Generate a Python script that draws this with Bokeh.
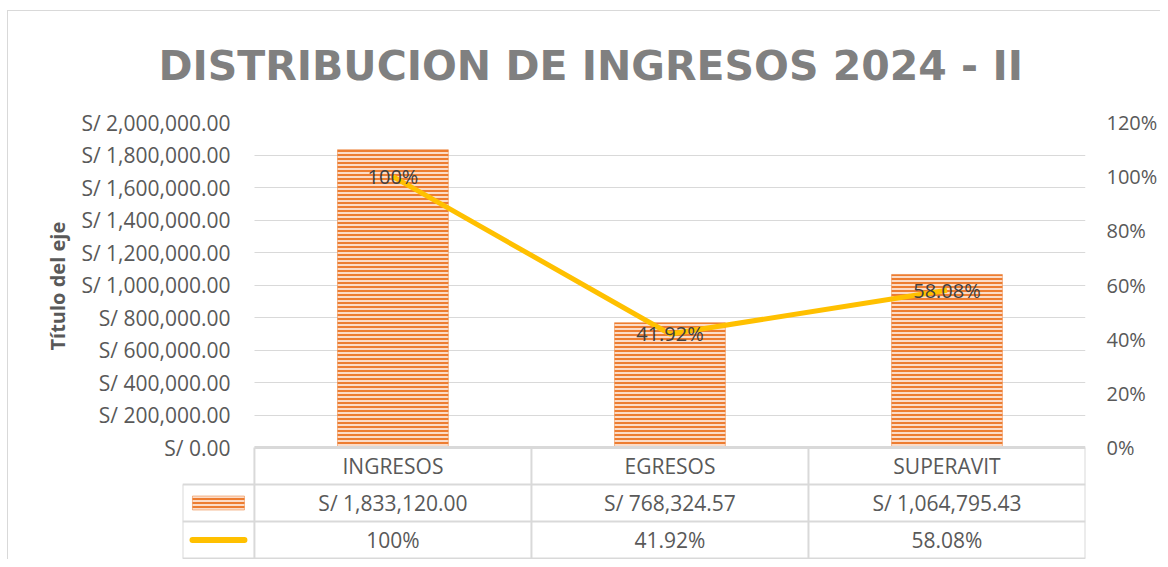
from bokeh.plotting import figure
from bokeh.models import Range1d, LinearAxis, FixedTicker, Title
from bokeh.embed import file_html
from bokeh.resources import INLINE
from bokeh.core.properties import value

# ---- data ----
categories = ["INGRESOS", "EGRESOS", "SUPERAVIT"]
amounts = [1833120.00, 768324.57, 1064795.43]
shares = [1.00, 0.4192, 0.5808]
share_labels = ["100%", "41.92%", "58.08%"]
y_ticks = [0, 200000, 400000, 600000, 800000, 1000000, 1200000, 1400000, 1600000, 1800000, 2000000]
y_tick_labels = ["S/ 0.00", "S/ 200,000.00", "S/ 400,000.00", "S/ 600,000.00", "S/ 800,000.00",
                 "S/ 1,000,000.00", "S/ 1,200,000.00", "S/ 1,400,000.00", "S/ 1,600,000.00",
                 "S/ 1,800,000.00", "S/ 2,000,000.00"]
pct_ticks = [0, 0.2, 0.4, 0.6, 0.8, 1.0, 1.2]
pct_tick_labels = ["0%", "20%", "40%", "60%", "80%", "100%", "120%"]
title_text = "DISTRIBUCION DE INGRESOS 2024 - II"
y_title = "Título del eje"

FONT = "Open Sans"
ORANGE = "#ED7D31"
ORANGE_BG = "#FBDCC8"
YELLOW = "#FFC000"
GRID = "#D9D9D9"
TXT = "#595959"

# ---- layout constants (pixels) ----
W, H = 1160, 559
TOP_PX = 122
LEFT_PX = 182
LEG_PX = 72          # legend column of the data table
CAT_PX = 832         # width of the three category columns
PLOT_PX = 325        # height of the value area
TABLE_PX = H - TOP_PX - PLOT_PX   # height below zero used by the data table
ROW_PX = 37
Y_MAX, P_MAX = 2000000, 1.2

n = len(categories)
unit = CAT_PX / n
leg_w = LEG_PX / unit
y_below = TABLE_PX / PLOT_PX * Y_MAX
p_below = TABLE_PX / PLOT_PX * P_MAX
row = ROW_PX / PLOT_PX * Y_MAX

p = figure(width=W, height=H, x_range=Range1d(-leg_w, n), y_range=Range1d(-y_below, Y_MAX),
           output_backend="svg", toolbar_location=None,
           min_border_left=LEFT_PX, min_border_right=W - LEFT_PX - LEG_PX - CAT_PX,
           min_border_top=TOP_PX, min_border_bottom=0)
p.border_fill_color = None
p.styles = {"background": "linear-gradient(#D9D9D9, #D9D9D9) 7px 10px / 1px 100% no-repeat, "
                          "linear-gradient(#D9D9D9, #D9D9D9) 7px 10px / 100% 1px no-repeat, white"}
p.extra_y_ranges = {"pct": Range1d(-p_below, P_MAX)}

p.title.text = title_text
p.title.text_font = "DejaVu Sans"
p.title.text_font_size = "41px"
p.title.text_font_style = "bold"
p.title.text_color = "#808080"
p.title.align = "left"
p.title.offset = -24
p.title.standoff = 66

p.xaxis.visible = False
p.xgrid.visible = False
p.outline_line_color = None

ax = p.yaxis[0]
ax.ticker = FixedTicker(ticks=y_ticks)
ax.major_label_overrides = {t: l for t, l in zip(y_ticks, y_tick_labels)}
ax.axis_line_color = None
ax.major_tick_line_color = None
ax.minor_tick_line_color = None
ax.major_tick_out = 0
ax.major_tick_in = 0
ax.major_label_standoff = 24 - LEG_PX
ax.major_label_text_font = FONT
ax.major_label_text_font_size = "21px"
ax.major_label_text_color = TXT

# vertical axis title, centred on the value area (not on the table)
ytitle = Title(text=y_title, align="left", offset=209, standoff=15,
               text_font=FONT, text_font_size="20px", text_font_style="bold", text_color=TXT)
p.add_layout(ytitle, "left")

p.ygrid.ticker = FixedTicker(ticks=y_ticks[1:])
p.ygrid.grid_line_color = GRID
p.ygrid.cross_bounds = (0, n)

rax = LinearAxis(y_range_name="pct", ticker=FixedTicker(ticks=pct_ticks))
rax.major_label_overrides = {t: l for t, l in zip(pct_ticks, pct_tick_labels)}
rax.axis_line_color = None
rax.major_tick_line_color = None
rax.minor_tick_line_color = None
rax.major_tick_out = 0
rax.major_tick_in = 0
rax.major_label_standoff = 21
rax.major_label_text_font = FONT
rax.major_label_text_font_size = "20px"
rax.major_label_text_color = TXT
p.add_layout(rax, "right")

cx = [i + 0.5 for i in range(n)]
p.vbar(x=cx, top=amounts, width=0.4, fill_color=ORANGE_BG,
       hatch_pattern="horizontal_line", hatch_color=ORANGE, hatch_scale=4, hatch_weight=2,
       line_color=ORANGE, line_alpha=0.5)
p.line(x=cx, y=shares, y_range_name="pct", line_color=YELLOW, line_width=5)
p.text(x=cx, y=shares, text=share_labels, y_range_name="pct",
       text_align="center", text_baseline="middle", text_font=value(FONT),
       text_font_size="20px", text_color="#404040")

# ---- data table under the plot ----
rows_y = [0, -row, -2 * row, -3 * row]
p.segment(x0=[0, -leg_w, -leg_w, -leg_w], y0=rows_y, x1=[n] * 4, y1=rows_y,
          line_color=GRID, line_width=[3, 2, 2, 2])
vx = [-leg_w] + list(range(n + 1))
p.segment(x0=vx, y0=[rows_y[3]] * len(vx), x1=vx, y1=[rows_y[1]] + [0] * (n + 1),
          line_color=GRID, line_width=2)

amount_labels = [f"S/ {v:,.2f}" for v in amounts]
for k, texts in enumerate([categories, amount_labels, share_labels]):
    yc = -(k + 0.5) * row
    p.text(x=cx, y=[yc] * n, text=texts, text_align="center", text_baseline="middle",
           text_font=value(FONT), text_font_size="21px", text_color=TXT)

leg_c = -leg_w / 2
p.rect(x=[leg_c], y=[-1.5 * row], width=52, height=14, width_units="screen", height_units="screen",
       fill_color=ORANGE_BG, hatch_pattern="horizontal_line", hatch_color=ORANGE,
       hatch_scale=4, hatch_weight=2, line_color=ORANGE, line_alpha=0.5)
half = 26 / unit
p.line(x=[leg_c - half, leg_c + half], y=[-2.5 * row] * 2, line_color=YELLOW, line_width=6,
       line_cap="round")

open("out.html", "w").write(file_html(p, INLINE))
